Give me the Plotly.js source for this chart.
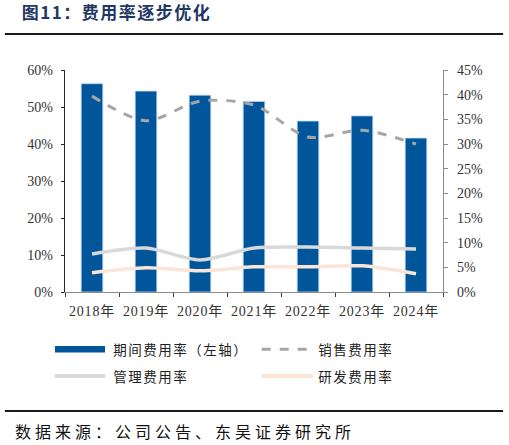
<!DOCTYPE html>
<html>
<head>
<meta charset="utf-8">
<script src="https://cdn.plot.ly/plotly-3.0.1.min.js"></script>
<style>
html,body{margin:0;padding:0;background:#fff;}
#chart{width:509px;height:445px;}
#chart g.annotation[data-index="0"] text{letter-spacing:1.5px;}
#chart g.annotation[data-index="1"] text{letter-spacing:4px;}
#chart g.annotation[data-index="2"] text,
#chart g.annotation[data-index="3"] text,
#chart g.annotation[data-index="4"] text,
#chart g.annotation[data-index="5"] text{letter-spacing:1.5px;}
#chart .xtick text{letter-spacing:0.8px;}
</style>
</head>
<body>
<div id="chart"></div>
<script>
// Data
const years = ["2018年","2019年","2020年","2021年","2022年","2023年","2024年"];
const periodExpenseRate = [56.3, 54.3, 53.2, 51.5, 46.2, 47.6, 41.6];   // left axis, %
const salesExpenseRate  = [39.7, 34.7, 38.7, 37.9, 31.4, 32.8, 30.0];   // right axis, %
const mgmtExpenseRate   = [7.7, 8.9, 6.5, 8.9, 9.1, 8.9, 8.7];          // right axis, %
const rdExpenseRate     = [3.9, 4.9, 4.3, 5.1, 5.1, 5.3, 3.7];          // right axis, %
const leftTicks  = [0,10,20,30,40,50,60];
const rightTicks = [0,5,10,15,20,25,30,35,40,45];
const seriesNames = ['期间费用率（左轴）','销售费用率','管理费用率','研发费用率'];
const seriesColors = ['#00559B','#A6A6A6','#D9D9D9','#FBE5D6'];

const serif = '"Liberation Serif", "Times New Roman", "Noto Sans CJK SC", serif';
const cjk = '"Noto Sans CJK SC", "Liberation Serif", serif';

const traces = [
  {type:'bar', x:years, y:periodExpenseRate, name:seriesNames[0],
   marker:{color:seriesColors[0], line:{color:'#BDD7EE', width:0.8}}, yaxis:'y', hoverinfo:'skip'},
  {type:'scatter', mode:'lines', x:years, y:salesExpenseRate, name:seriesNames[1], yaxis:'y2',
   line:{color:seriesColors[1], width:3, dash:'dash', shape:'spline', smoothing:0.8}},
  {type:'scatter', mode:'lines', x:years, y:mgmtExpenseRate, name:seriesNames[2], yaxis:'y2',
   line:{color:seriesColors[2], width:3.5, shape:'spline', smoothing:0.8}},
  {type:'scatter', mode:'lines', x:years, y:rdExpenseRate, name:seriesNames[3], yaxis:'y2',
   line:{color:seriesColors[3], width:3.5, shape:'spline', smoothing:0.8}}
];

// Legend keys (paper coordinates), two columns by two rows
const colSwatch = [[-0.0265, 0.1058],[0.5204, 0.6569]];
const colTextLeft = [0.1278, 0.6701];
const rowY = [-0.2581, -0.3784];
const legendPos = [[0,0],[1,0],[0,1],[1,1]];
const pxPerPaper = 378;

const legendShapes = [];
const legendAnnots = [];
legendPos.forEach(([c,r],i)=>{
  if(i===0){
    legendShapes.push({type:'rect', xref:'paper', yref:'paper', x0:colSwatch[c][0], x1:colSwatch[c][1],
      y0:rowY[r]+0.0145, y1:rowY[r]-0.0145, fillcolor:seriesColors[0], line:{width:0}});
  } else {
    legendShapes.push({type:'line', xref:'paper', yref:'paper', x0:colSwatch[c][0], x1:colSwatch[c][1],
      y0:rowY[r], y1:rowY[r], line:{color:seriesColors[i], width:i===1?3:4, dash:i===1?'dash':'solid'}});
  }
  const w = seriesNames[i].length * 15; // approx rendered width in px
  legendAnnots.push({xref:'paper', yref:'paper', x:colTextLeft[c] + w/2/pxPerPaper, y:rowY[r], xanchor:'center', yanchor:'middle',
    showarrow:false, text:seriesNames[i], font:{family:cjk, size:13.5, color:'#222'}});
});

const layout = {
  width:509, height:445,
  margin:{l:65, r:66, t:70, b:153, pad:0},
  paper_bgcolor:'#fff', plot_bgcolor:'#fff',
  bargap:0.6,
  showlegend:false,
  font:{family:serif, color:'#333', size:14},
  xaxis:{type:'category', showgrid:false, showline:true, linecolor:'#8C8C8C', linewidth:1.3,
         ticks:'outside', tickson:'boundaries', ticklen:4, tickcolor:'#404040', ticklabelstandoff:6,
         tickfont:{family:serif, size:14, color:'#333'}, fixedrange:true},
  yaxis:{range:[0,60], tickvals:leftTicks, ticktext:leftTicks.map(v=>v+'%'),
         showgrid:false, zeroline:false, showline:true, linecolor:'#262626', linewidth:1.3,
         ticks:'outside', ticklen:3, tickcolor:'#262626', ticklabelstandoff:5,
         tickfont:{family:serif, size:14, color:'#333'}},
  yaxis2:{range:[0,45], overlaying:'y', side:'right', tickvals:rightTicks, ticktext:rightTicks.map(v=>v+'%'),
         showgrid:false, zeroline:false, showline:true, linecolor:'#8C8C8C', linewidth:1.3,
         ticks:'outside', ticklen:4, tickcolor:'#8C8C8C', ticklabelstandoff:6,
         tickfont:{family:serif, size:14, color:'#333'}},
  annotations:[
    {xref:'paper', yref:'paper', x:0.135, y:1.265, xanchor:'center', yanchor:'middle', showarrow:false,
     text:'<b>图11：费用率逐步优化</b>', font:{family:cjk, size:17, color:'#1F3864'}},
    {xref:'paper', yref:'paper', x:0.3175, y:-0.627, xanchor:'center', yanchor:'middle', showarrow:false,
     text:'数据来源：公司公告、东吴证券研究所', font:{family:cjk, size:16, color:'#111'}}
  ].concat(legendAnnots),
  shapes:[
    {type:'line', xref:'paper', yref:'paper', x0:-0.159, x1:1.159, y0:1.162, y1:1.162, line:{color:'#1a1a1a', width:2}},
    {type:'line', xref:'paper', yref:'paper', x0:-0.159, x1:1.159, y0:-0.536, y1:-0.536, line:{color:'#1a1a1a', width:2}}
  ].concat(legendShapes)
};

Plotly.newPlot('chart', traces, layout, {displayModeBar:false, staticPlot:true});
</script>
</body>
</html>
